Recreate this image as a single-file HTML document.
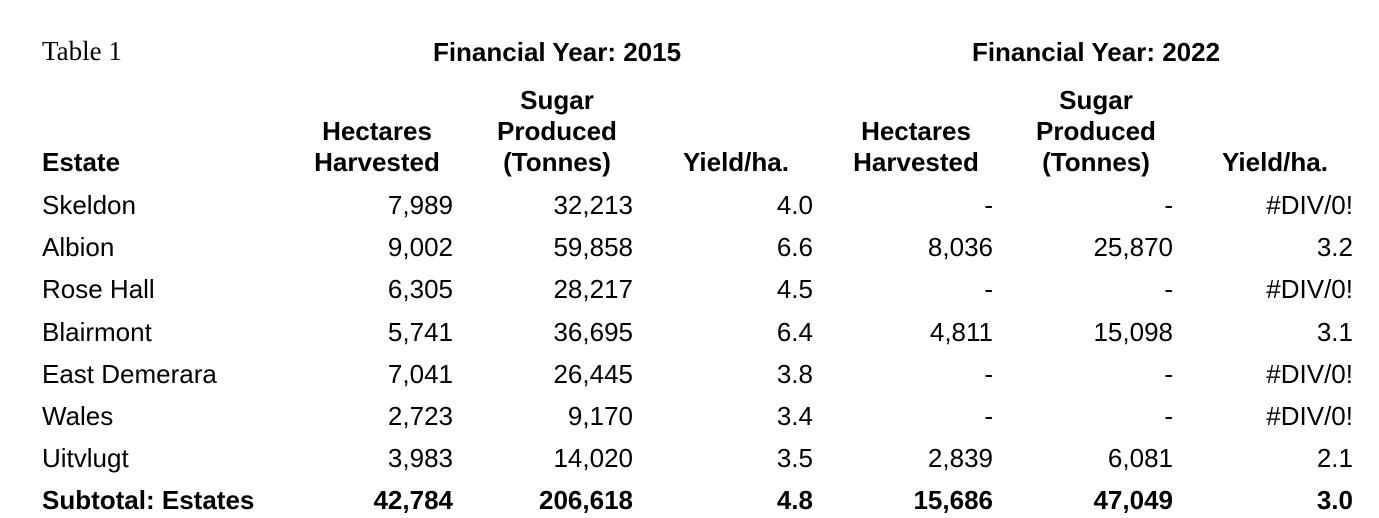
<!DOCTYPE html>
<html><head><meta charset="utf-8">
<style>
body{margin:0;width:1379px;height:518px;background:#fff;position:relative;overflow:hidden;font-family:"Liberation Sans",Arial,sans-serif;color:#000;}
.t{position:absolute;font-size:26px;line-height:30px;white-space:nowrap;}
.b{font-weight:bold;}
.r{text-align:right;}
.c{text-align:center;}
</style></head><body>
<div class="t" style="left:42px;top:36px;font-family:'Liberation Serif',serif;font-size:27px;">Table 1</div>
<div class="t b c" style="left:407px;width:300px;top:37px;">Financial Year: 2015</div>
<div class="t b c" style="left:946px;width:300px;top:37px;">Financial Year: 2022</div>
<div id="tbl"></div>
<script>
const cols=[453,633,813,993,1173,1353];
const heads=[["Hectares","Harvested"],["Sugar","Produced","(Tonnes)"],["Yield/ha."],["Hectares","Harvested"],["Sugar","Produced","(Tonnes)"],["Yield/ha."]];
const headCenters=[377,557,736,916,1096,1275];
const estates=["Skeldon","Albion","Rose Hall","Blairmont","East Demerara","Wales","Uitvlugt","Subtotal: Estates"];
const values=[
["7,989","32,213","4.0","-","-","#DIV/0!"],
["9,002","59,858","6.6","8,036","25,870","3.2"],
["6,305","28,217","4.5","-","-","#DIV/0!"],
["5,741","36,695","6.4","4,811","15,098","3.1"],
["7,041","26,445","3.8","-","-","#DIV/0!"],
["2,723","9,170","3.4","-","-","#DIV/0!"],
["3,983","14,020","3.5","2,839","6,081","2.1"],
["42,784","206,618","4.8","15,686","47,049","3.0"]];
const root=document.getElementById('tbl');
function add(txt,cls,style,name){const d=document.createElement('div');d.className='t '+cls;d.textContent=txt;d.setAttribute('style',style);


root.appendChild(d);}
add('Estate','b','left:42px;top:147px;','estate-header');
heads.forEach((h,i)=>{const n=h.length;h.forEach((line,j)=>{const cy=162-(n-1-j)*31;
add(line,'b c','left:'+(headCenters[i]-120)+'px;width:240px;top:'+(cy-15)+'px;','column-header');});});
estates.forEach((e,r)=>{const cy=205+r*42.2;const bold=r===estates.length-1?'b ':'';
add(e,bold,'left:42px;top:'+(cy-15)+'px;','row-label');
values[r].forEach((v,i)=>add(v,bold+'r','left:'+(cols[i]-200)+'px;width:200px;top:'+(cy-15)+'px;','cell-value'));});
</script>
</body></html>
